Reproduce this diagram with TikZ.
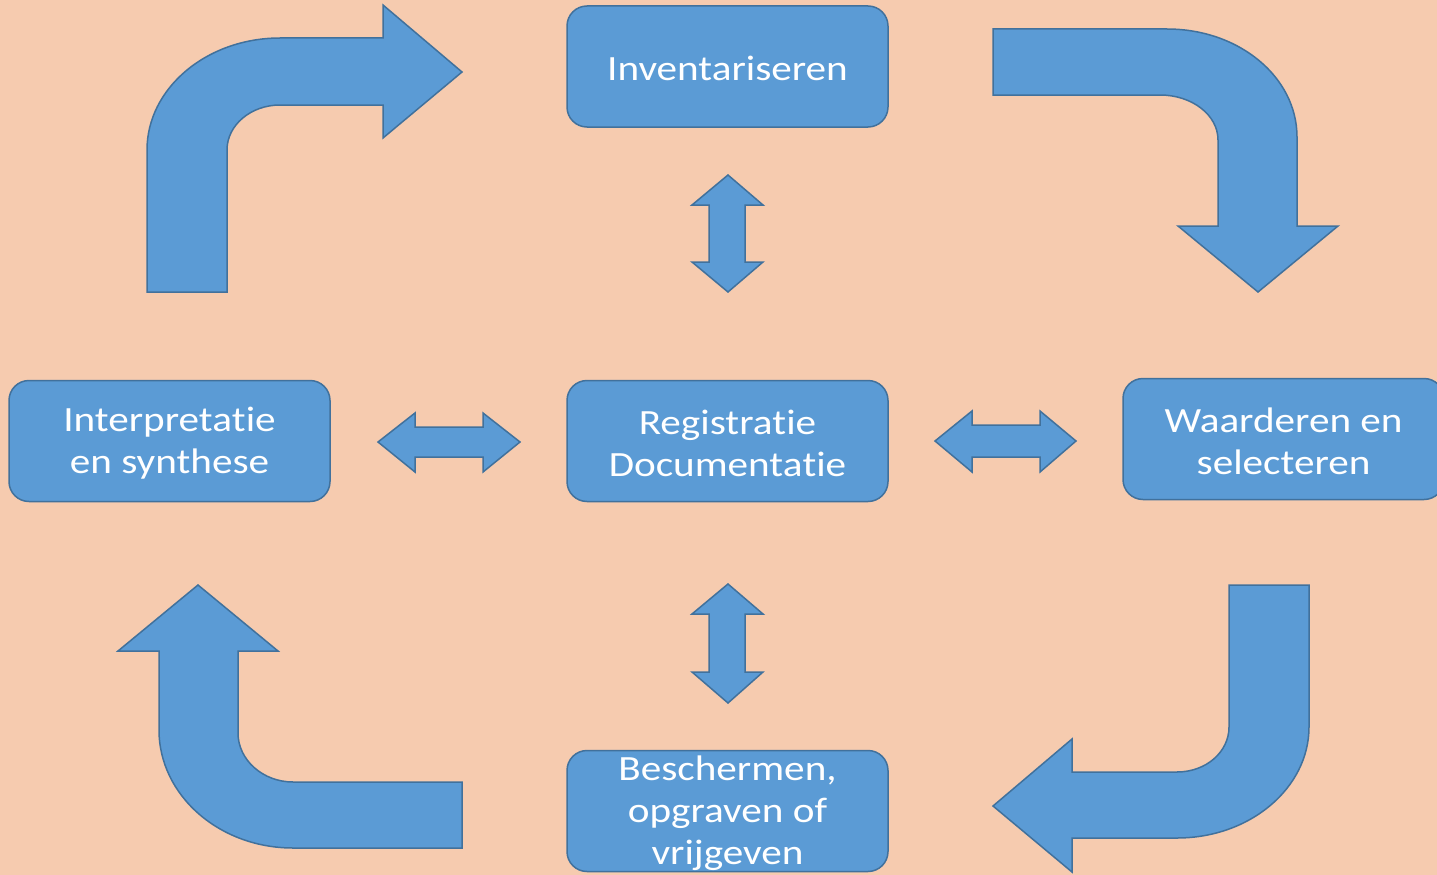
\documentclass[tikz,border=0pt]{standalone}
\usepackage{fontspec}
\setmainfont{Carlito}[FakeStretch=1.16,Ligatures={NoCommon,NoContextual,NoRare}]
\definecolor{bg}{HTML}{F6CBAF}
\definecolor{boxfill}{HTML}{5B9BD5}
\definecolor{boxline}{HTML}{41719C}
\tikzset{
  blockbox/.style={draw=boxline, line width=1.5pt, fill=boxfill, rounded corners=20pt,
    minimum width=321pt, minimum height=121pt, inner sep=0pt},
  boxtext/.style={inner sep=0pt, align=center, text=white,
    font=\fontsize{35.5}{42}\selectfont},
  blockarrow/.style={draw=boxline, line width=1.5pt, fill=boxfill, line join=miter}
}
\begin{document}
\begin{tikzpicture}[x=1pt,y=-1pt]
\fill[bg] (0,0) rectangle (1437,875);
\useasboundingbox (0,0) rectangle (1437,875);
\clip (0,0) rectangle (1437,875);

% boxes
\node[blockbox] (inv) at (727.5,66.5) {};
\node[blockbox] (int) at (169.5,441) {};
\node[blockbox] (reg) at (727.5,441) {};
\node[blockbox] (waa) at (1283.5,439) {};
\node[blockbox] (bes) at (727.5,811) {};
\node[boxtext] (invt) at ([yshift=-2pt]inv.center) {Inventariseren};
\node[boxtext] (intt) at ([yshift=-2pt]int.center) {Interpreta\kern0pt tie\\en synthese};
\node[boxtext] (regt) at ([yshift=-2pt]reg.center) {Registra\kern0pt tie\\Documenta\kern0pt tie};
\node[boxtext] (waat) at ([yshift=-2pt]waa.center) {Waarderen en\\selecteren};
\node[boxtext] (best) at ([yshift=-2pt]bes.center) {Beschermen,\\opgraven of\\vrijgeven};

% top-left curved arrow
\draw[blockarrow] (147,292) -- (147,150) .. controls (147,88) and (207,38) .. (280,38)
  -- (383,38) -- (383,5) -- (462,72) -- (383,138) -- (383,105) -- (280,105)
  .. controls (251,105) and (227,125) .. (227,150) -- (227,292) -- cycle;

% top-right curved arrow
\draw[blockarrow] (993,29) -- (1167,29) .. controls (1239,29) and (1297,77) .. (1297,137)
  -- (1297,226) -- (1338,226) -- (1258,292) -- (1178,226) -- (1218,226) -- (1218,140)
  .. controls (1218,115) and (1192,95) .. (1160,95) -- (993,95) -- cycle;

% bottom-right curved arrow
\draw[blockarrow] (1229,585) -- (1309,585) -- (1309,727) .. controls (1309,788) and (1250,838) .. (1177,838)
  -- (1072,838) -- (1072,872) -- (993,806) -- (1072,739) -- (1072,772) -- (1177,772)
  .. controls (1206,772) and (1229,752) .. (1229,727) -- cycle;

% bottom-left curved arrow
\draw[blockarrow] (198,585) -- (278,651) -- (238,651) -- (238,733)
  .. controls (238,760) and (263,782) .. (293,782) -- (462,782) -- (462,848) -- (293,848)
  .. controls (219,848) and (159,795) .. (159,730) -- (159,651) -- (118,651) -- cycle;

% double arrows
\draw[blockarrow] (378,442) -- (415,413) -- (415,427) -- (483,427) -- (483,413) -- (520,442)
  -- (483,472) -- (483,457) -- (415,457) -- (415,472) -- cycle;
\draw[blockarrow] (935,441) -- (972,411) -- (972,425) -- (1040,425) -- (1040,411) -- (1076,441)
  -- (1040,472) -- (1040,457) -- (972,457) -- (972,472) -- cycle;
\draw[blockarrow] (728,175) -- (763,205) -- (745,205) -- (745,262) -- (763,262) -- (728,292)
  -- (692,262) -- (709,262) -- (709,205) -- (692,205) -- cycle;
\draw[blockarrow] (728,584) -- (763,614) -- (745,614) -- (745,672) -- (763,672) -- (728,703)
  -- (692,672) -- (709,672) -- (709,614) -- (692,614) -- cycle;
\end{tikzpicture}
\end{document}
